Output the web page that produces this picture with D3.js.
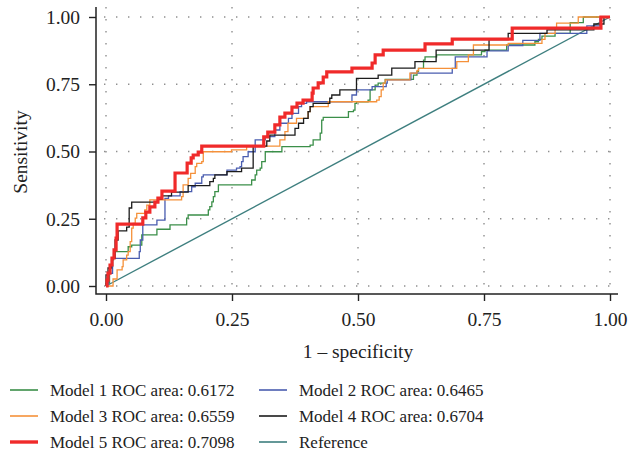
<!DOCTYPE html>
<html>
<head>
<meta charset="utf-8">
<script src="https://cdn.jsdelivr.net/npm/d3@7"></script>
<style>
  html, body { margin: 0; padding: 0; background: #fff; }
  svg { display: block; font-family: "Liberation Serif", "DejaVu Serif", serif; }
</style>
</head>
<body>
<div id="chart"></div>
<script>
'use strict';

// ROC points as [1 - specificity, sensitivity] (step after each point)
var model1 = [[0,0],[0.004,0.011],[0.007,0.047],[0.009,0.072],[0.013,0.097],[0.015,0.122],[0.016,0.128],[0.044,0.146],[0.051,0.152],[0.071,0.190],[0.101,0.211],[0.127,0.227],[0.160,0.252],[0.163,0.264],[0.203,0.283],[0.206,0.295],[0.210,0.313],[0.213,0.332],[0.216,0.351],[0.223,0.376],[0.289,0.394],[0.296,0.413],[0.299,0.431],[0.306,0.438],[0.309,0.462],[0.316,0.499],[0.349,0.518],[0.405,0.524],[0.411,0.543],[0.425,0.568],[0.428,0.617],[0.431,0.627],[0.481,0.648],[0.491,0.654],[0.494,0.679],[0.497,0.685],[0.520,0.691],[0.524,0.729],[0.534,0.747],[0.540,0.754],[0.554,0.768],[0.610,0.784],[0.617,0.797],[0.620,0.809],[0.630,0.840],[0.633,0.852],[0.656,0.859],[0.745,0.871],[0.752,0.877],[0.795,0.896],[0.851,0.908],[0.858,0.917],[0.865,0.929],[0.891,0.939],[0.921,0.979],[0.947,1],[1,1]];

var model2 = [[0,0],[0.005,0.047],[0.013,0.103],[0.066,0.128],[0.068,0.171],[0.073,0.227],[0.101,0.245],[0.117,0.326],[0.124,0.335],[0.147,0.351],[0.170,0.369],[0.177,0.382],[0.190,0.406],[0.193,0.413],[0.240,0.431],[0.259,0.438],[0.266,0.444],[0.269,0.462],[0.272,0.481],[0.282,0.499],[0.296,0.543],[0.316,0.555],[0.335,0.580],[0.345,0.605],[0.362,0.623],[0.369,0.642],[0.382,0.667],[0.388,0.679],[0.398,0.685],[0.488,0.710],[0.497,0.729],[0.528,0.741],[0.556,0.754],[0.558,0.766],[0.605,0.791],[0.687,0.809],[0.693,0.852],[0.756,0.874],[0.798,0.894],[0.827,0.913],[0.861,0.939],[0.954,0.967],[0.980,1],[1,1]];

var model3 = [[0,0],[0.014,0.026],[0.022,0.060],[0.032,0.072],[0.034,0.097],[0.041,0.115],[0.044,0.128],[0.048,0.165],[0.051,0.215],[0.054,0.233],[0.058,0.252],[0.061,0.270],[0.077,0.283],[0.081,0.301],[0.087,0.320],[0.150,0.332],[0.153,0.376],[0.163,0.400],[0.168,0.419],[0.177,0.444],[0.180,0.456],[0.190,0.462],[0.193,0.499],[0.249,0.506],[0.279,0.520],[0.345,0.543],[0.355,0.574],[0.361,0.605],[0.378,0.623],[0.401,0.648],[0.405,0.667],[0.441,0.685],[0.537,0.691],[0.542,0.704],[0.546,0.729],[0.550,0.754],[0.554,0.766],[0.603,0.791],[0.617,0.801],[0.620,0.809],[0.696,0.834],[0.719,0.859],[0.729,0.896],[0.798,0.902],[0.865,0.917],[0.871,0.939],[0.891,0.958],[0.894,0.977],[0.937,1],[1,1]];

var model4 = [[0,0],[0,0.041],[0.004,0.067],[0.011,0.104],[0.018,0.171],[0.024,0.205],[0.041,0.219],[0.046,0.290],[0.051,0.312],[0.104,0.323],[0.111,0.335],[0.130,0.349],[0.163,0.373],[0.206,0.388],[0.213,0.400],[0.216,0.413],[0.240,0.425],[0.269,0.438],[0.292,0.520],[0.319,0.539],[0.325,0.561],[0.375,0.586],[0.382,0.605],[0.392,0.623],[0.401,0.648],[0.405,0.667],[0.411,0.679],[0.444,0.698],[0.448,0.710],[0.464,0.729],[0.497,0.772],[0.540,0.784],[0.567,0.810],[0.613,0.834],[0.655,0.877],[0.760,0.916],[0.798,0.939],[0.875,0.952],[0.968,0.974],[0.988,1],[1,1]];

var model5 = [[0,0],[0.002,0.022],[0.004,0.048],[0.008,0.078],[0.012,0.104],[0.016,0.134],[0.020,0.178],[0.022,0.230],[0.073,0.253],[0.079,0.275],[0.087,0.294],[0.097,0.312],[0.103,0.327],[0.111,0.353],[0.137,0.420],[0.161,0.457],[0.169,0.476],[0.173,0.487],[0.183,0.498],[0.190,0.520],[0.313,0.554],[0.321,0.572],[0.335,0.599],[0.345,0.628],[0.355,0.643],[0.369,0.665],[0.379,0.680],[0.391,0.691],[0.409,0.717],[0.411,0.736],[0.421,0.755],[0.431,0.777],[0.438,0.796],[0.488,0.810],[0.528,0.829],[0.534,0.859],[0.550,0.877],[0.633,0.900],[0.687,0.918],[0.806,0.959],[0.982,1],[1,1]];

var reference = [[0,0],[1,1]];

var ticks = [0, 0.25, 0.5, 0.75, 1];
var tickLabels = ['0.00', '0.25', '0.50', '0.75', '1.00'];

var seriesNames = ['Model 1 ROC area: 0.6172', 'Model 2 ROC area: 0.6465', 'Model 3 ROC area: 0.6559',
                   'Model 4 ROC area: 0.6704', 'Model 5 ROC area: 0.7098', 'Reference'];
var seriesData = [model1, model2, model3, model4, model5, reference];
var seriesColors = ['#3b8f49', '#4a5db0', '#f5913a', '#1c1c1c', '#f02a2a', '#3e7f7f'];
var seriesWidths = [1.3, 1.3, 1.3, 1.3, 3.2, 1.4];

var width = 638, height = 455;

var svg = d3.select('#chart').append('svg')
  .attr('width', width)
  .attr('height', height);

var x = d3.scaleLinear().domain([0, 1]).range([106, 610]);
var y = d3.scaleLinear().domain([0, 1]).range([286, 17]);

var axisX = 96, axisY = 294, plotTop = 7, plotRight = 618;

// dotted grid
var grid = svg.append('g').attr('stroke', '#8f8f8f').attr('stroke-width', 1.4)
  .attr('stroke-dasharray', '1.4 10.6');
grid.selectAll('.gy').data(ticks).enter().append('line')
  .attr('x1', axisX + 8).attr('x2', plotRight)
  .attr('y1', function(d){ return y(d); })
  .attr('y2', function(d){ return y(d); });
grid.selectAll('.gx').data(ticks).enter().append('line')
  .attr('y1', plotTop).attr('y2', axisY - 4)
  .attr('x1', function(d){ return x(d); })
  .attr('x2', function(d){ return x(d); });

// axes
var yAxis = d3.axisLeft(y).tickValues(ticks)
  .tickFormat(function(d, i){ return tickLabels[i]; })
  .tickSize(7).tickPadding(9);
var gy = svg.append('g').attr('transform', 'translate(' + axisX + ',0)').call(yAxis);

var xAxis = d3.axisBottom(x).tickValues(ticks)
  .tickFormat(function(d, i){ return tickLabels[i]; })
  .tickSize(7).tickPadding(11);
var gx = svg.append('g').attr('transform', 'translate(0,' + axisY + ')').call(xAxis);

[gx, gy].forEach(function(g){
  g.select('.domain').remove();
  g.selectAll('line').attr('stroke', '#222').attr('stroke-width', 1.4);
  g.selectAll('text').attr('fill', '#222').style('font-size', '19.5px')
    .style('font-family', '"Liberation Serif", serif');
});

svg.append('path')
  .attr('d', 'M' + axisX + ',' + plotTop + 'V' + axisY + 'H' + plotRight)
  .attr('fill', 'none').attr('stroke', '#222').attr('stroke-width', 1.5);

// curves
var stepLine = d3.line()
  .x(function(d){ return x(d[0]); })
  .y(function(d){ return y(d[1]); })
  .curve(d3.curveStepAfter);
var straightLine = d3.line()
  .x(function(d){ return x(d[0]); })
  .y(function(d){ return y(d[1]); });

var order = [5, 0, 1, 2, 3, 4];
svg.append('g').selectAll('path').data(order).enter().append('path')
  .attr('d', function(i){ return i == 5 ? straightLine(seriesData[i]) : stepLine(seriesData[i]); })
  .attr('fill', 'none')
  .attr('stroke', function(i){ return seriesColors[i]; })
  .attr('stroke-width', function(i){ return seriesWidths[i]; });

// axis titles
svg.append('text')
  .attr('x', 358).attr('y', 358)
  .attr('text-anchor', 'middle')
  .style('font-size', '19.5px').attr('fill', '#222')
  .text('1 \u2013 specificity');

svg.append('text')
  .attr('transform', 'translate(27,152) rotate(-90)')
  .attr('text-anchor', 'middle')
  .style('font-size', '19.5px').attr('fill', '#222')
  .text('Sensitivity');

// legend, two columns
var legendPos = [[10, 390], [259, 390], [10, 416], [259, 416], [10, 442], [259, 442]];
var legend = svg.append('g').selectAll('g').data(seriesNames).enter().append('g')
  .attr('transform', function(d, i){ return 'translate(' + legendPos[i][0] + ',' + legendPos[i][1] + ')'; });
legend.append('line')
  .attr('x1', 0).attr('x2', 28)
  .attr('stroke', function(d, i){ return seriesColors[i]; })
  .attr('stroke-width', function(d, i){ return i == 4 ? 3.4 : 1.6; });
legend.append('text')
  .attr('x', 40).attr('dy', '0.33em')
  .style('font-size', '17px').attr('fill', '#222')
  .text(function(d){ return d; });
</script>
</body>
</html>
